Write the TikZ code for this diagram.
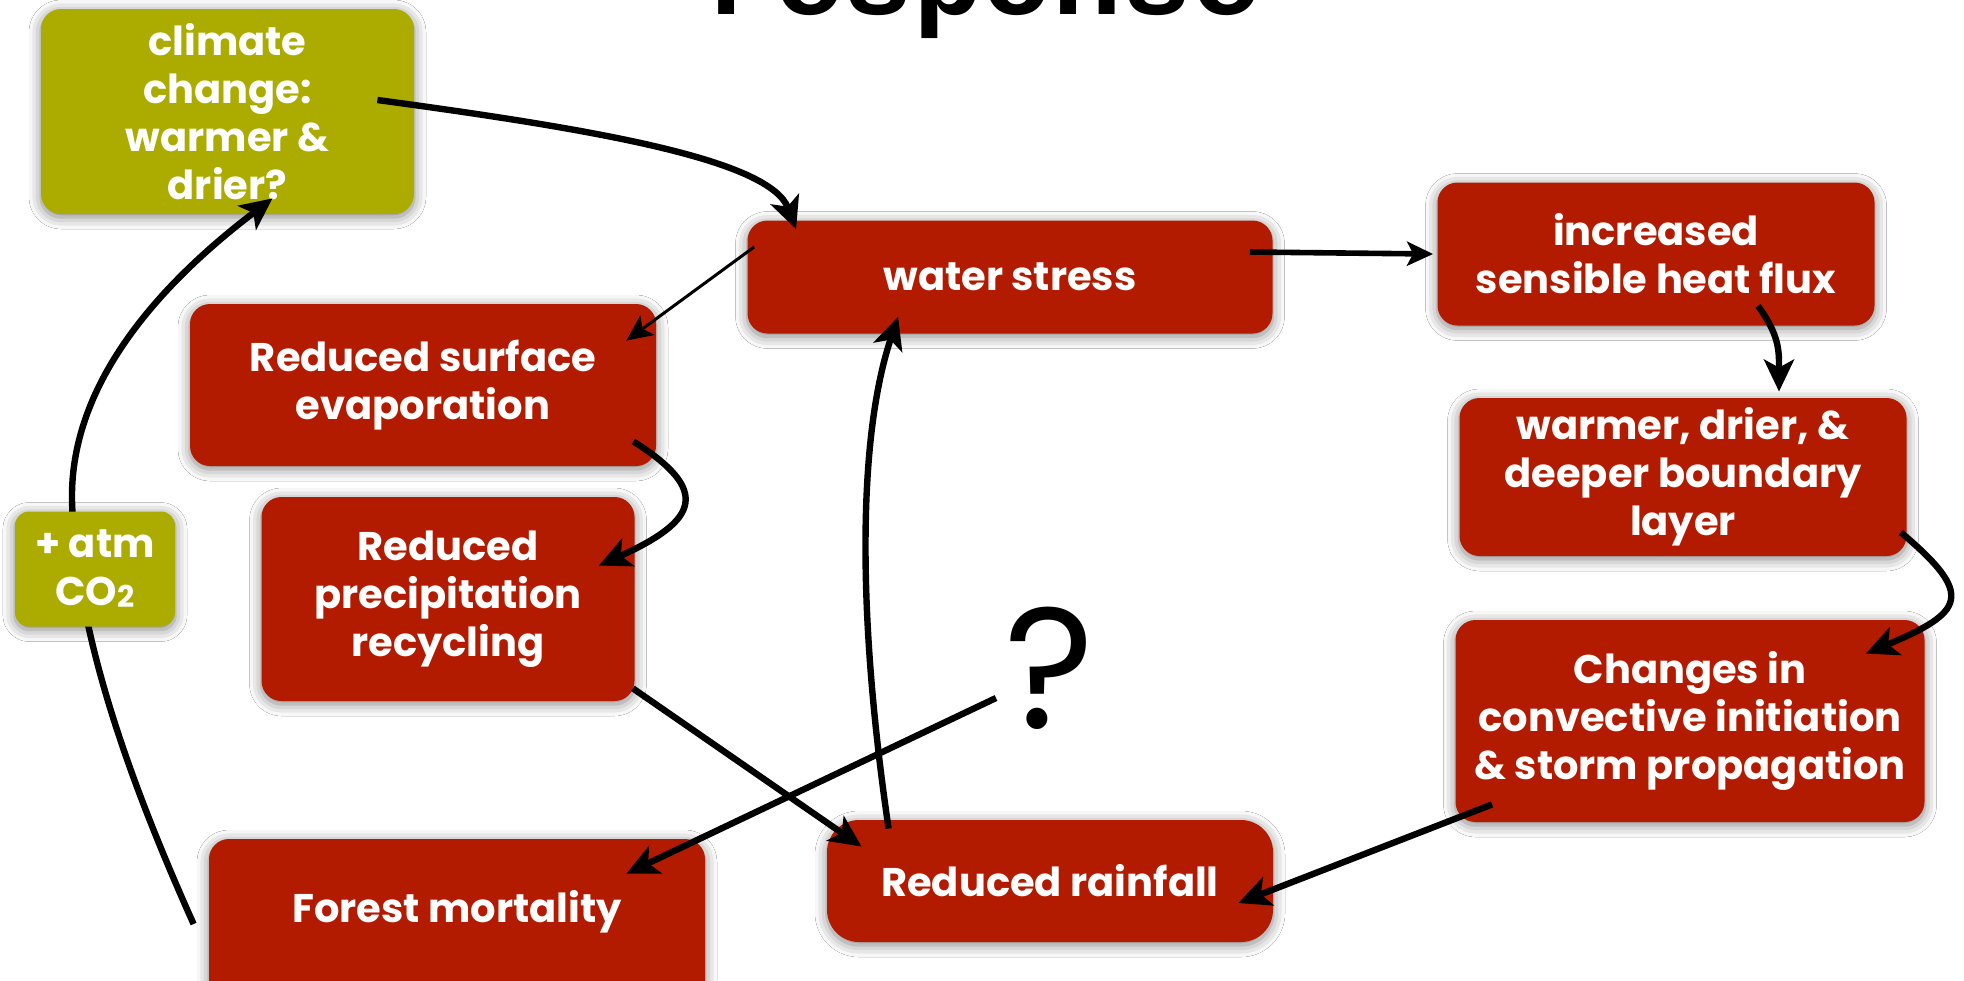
\documentclass[tikz,border=0pt]{standalone}
\usepackage{fontspec}
\setmainfont{Poppins}
\newfontfamily\titlefont{Liberation Mono}
\usetikzlibrary{arrows.meta,calc,shadows.blur}
\definecolor{boxred}{RGB}{179,27,0}
\definecolor{boxolive}{RGB}{171,171,0}
\tikzset{
  box/.style={fill=boxred, rounded corners=10pt, inner sep=0pt, align=center, text=white,
    font=\fontsize{20}{24}\selectfont\bfseries,
    blur shadow={shadow xshift=0pt, shadow yshift=-1.5pt, shadow blur radius=6pt, shadow opacity=50}},
  olivebox/.style={box, fill=boxolive},
  link/.style={line width=3.2pt, -{Stealth[length=16pt,width=15pt,inset=4pt]}},
  shortlink/.style={line width=2.8pt, -{Stealth[length=13pt,width=12pt,inset=3pt]}},
  thinlink/.style={line width=1.5pt, -{Stealth[length=13pt,width=12pt,inset=3pt]}},
}
\begin{document}
\begin{tikzpicture}[x=0.5pt,y=-0.5pt]
\useasboundingbox (0,0) rectangle (1964,980);
\clip (0,0) rectangle (1964,980);
\fill[white] (0,0) rectangle (1964,980);

\node[font=\fontsize{58}{58}\selectfont, anchor=base, inner sep=0pt] (title) at (983,14) {\titlefont\bfseries response};

\node[olivebox, minimum width=186.5pt, minimum height=102.5pt] (clim) at (227.5,111.5) {climate\\change:\\warmer \&\\drier?};
\node[box, minimum width=262.5pt, minimum height=56.5pt] (water) at (1010,277) {water stress};
\node[box, minimum width=218.5pt, minimum height=71.5pt] (heat) at (1656,254) {increased\\sensible heat flux};
\node[box, minimum width=223.5pt, minimum height=79pt] (bl) at (1683,477) {warmer, drier, \&\\deeper boundary\\layer};
\node[box, minimum width=234.5pt, minimum height=101pt] (conv) at (1690,721) {Changes in\\convective initiation\\\& storm propagation};
\node[box, minimum width=233pt, minimum height=81pt] (evap) at (423,385) {Reduced surface\\evaporation};
\node[box, minimum width=186.5pt, minimum height=102pt] (recyc) at (448,599) {Reduced\\precipitation\\recycling};
\node[box, minimum width=248pt, text height=41.5pt, text depth=41.5pt] (forest) at (457,922) {Forest mortality};
\node[box, minimum width=223pt, minimum height=61pt, rounded corners=16pt] (rain) at (1050,881) {Reduced rainfall};
\node[font=\fontsize{86}{86}\selectfont, inner sep=0pt] (q) at (1050,668) {?};

% connectors
\draw[link] ($(clim.east)+(-37,-11.5)$) .. controls (600,130) and (770,160) .. ($(water.north west)+(49,9)$);
\draw[thinlink] ($(water.west)+(7,-30)$) -- ($(evap.north east)+(-30,37)$);
\draw[shortlink] ($(water.east)+(-23,-25)$) -- ($(heat.west)+(-4,0)$);
\draw[link] ($(heat.south)+(102,-20)$) .. controls (1780,336) and (1779,352) .. ($(bl.north)+(96,-6)$);
\draw[link] ($(bl.south east)+(-6,-24)$) .. controls (1975,595) and (1965,612) .. ($(conv.north east)+(-59,34)$);
\draw[link] ($(conv.south west)+(37,-18)$) -- ($(rain.east)+(-35,22)$);
\draw[link] ($(rain.north west)+(62,9)$) .. controls (855,600) and (860,430) .. ($(water.south west)+(151,-17)$);
\draw[link] ($(evap.south east)+(-23,-25)$) .. controls (710,490) and (700,520) .. ($(recyc.north east)+(-36,69)$);
\draw[link] ($(recyc.south east)+(-2,-13)$) -- ($(rain.north west)+(35,27)$);
\draw[link] ($(q.center)+(-54,30)$) -- ($(forest.north east)+(-79,35)$);
\draw[link] ($(forest.west)+(-15,2)$) .. controls (120,760) and (75,620) .. (72,500) .. controls (70,380) and (165,280) .. ($(clim.south)+(45,-16)$);

\node[olivebox, minimum width=80pt, minimum height=57.5pt, rounded corners=7pt] (co2) at (95,569) {+ atm\\CO\raisebox{-1pt}{\fontsize{15}{15}\selectfont 2}};
\end{tikzpicture}
\end{document}
